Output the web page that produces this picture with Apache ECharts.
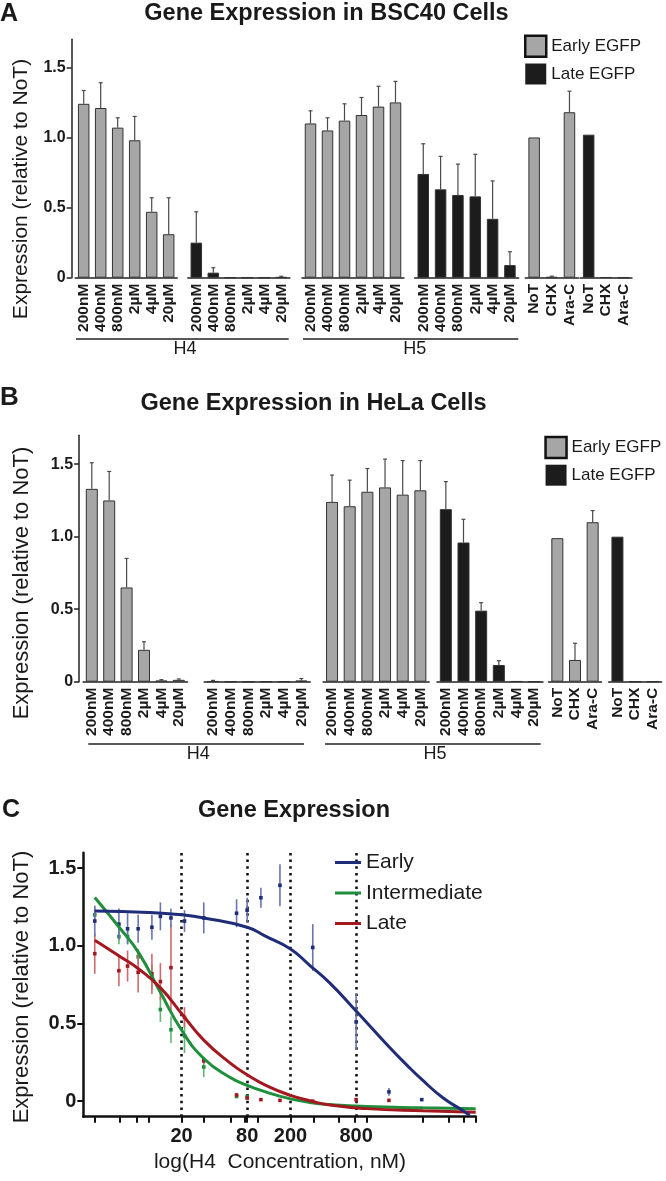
<!DOCTYPE html>
<html><head><meta charset="utf-8">
<script src="https://cdn.jsdelivr.net/npm/echarts@6/dist/echarts.min.js"></script>
<style>html,body{margin:0;padding:0;background:#fff}#c{width:666px;height:1181px}</style>
</head><body><div id="c"></div>
<script>
const FONT = '"Liberation Sans", Arial, Helvetica, sans-serif';

// ---------- categories / ticks ----------
const concLabels = ['200nM', '400nM', '800nM', '2µM', '4µM', '20µM'];
const ctrlLabels = ['NoT', 'CHX', 'Ara-C'];
const yTicks = [0, 0.5, 1.0, 1.5];

// ---------- Panel A : BSC40 ----------
const aH4Early    = [1.24, 1.21, 1.07, 0.98, 0.47, 0.31];
const aH4EarlyErr = [0.095, 0.18, 0.07, 0.17, 0.10, 0.26];
const aH4Late     = [0.25, 0.036, 0, 0, 0, 0.004];
const aH4LateErr  = [0.22, 0.035, 0, 0, 0, 0.006];
const aH5Early    = [1.10, 1.05, 1.12, 1.16, 1.22, 1.25];
const aH5EarlyErr = [0.09, 0.09, 0.12, 0.125, 0.145, 0.15];
const aH5Late     = [0.74, 0.63, 0.59, 0.58, 0.42, 0.09];
const aH5LateErr  = [0.215, 0.235, 0.22, 0.30, 0.27, 0.095];
const aCtrlEarly    = [1.0, 0.005, 1.18];
const aCtrlEarlyErr = [0, 0.006, 0.15];
const aCtrlLate     = [1.02, 0.003, 0];
const aCtrlLateErr  = [0, 0, 0];

// ---------- Panel B : HeLa ----------
const bH4Early    = [1.33, 1.25, 0.65, 0.22, 0.008, 0.013];
const bH4EarlyErr = [0.18, 0.20, 0.20, 0.055, 0.006, 0.006];
const bH4Late     = [0.003, 0, 0, 0, 0, 0.008];
const bH4LateErr  = [0.006, 0, 0, 0, 0, 0.014];
const bH5Early    = [1.24, 1.21, 1.31, 1.34, 1.29, 1.32];
const bH5EarlyErr = [0.185, 0.18, 0.16, 0.195, 0.235, 0.205];
const bH5Late     = [1.19, 0.96, 0.49, 0.115, 0.003, 0];
const bH5LateErr  = [0.19, 0.16, 0.055, 0.03, 0, 0];
const bCtrlEarly    = [0.99, 0.15, 1.10];
const bCtrlEarlyErr = [0, 0.115, 0.08];
const bCtrlLate     = [1.0, 0, 0];
const bCtrlLateErr  = [0, 0, 0];

// ---------- Panel C : dose response (H4 concentration, nM) ----------
const cConc       = [3.2, 5.33, 6.4, 8, 10.7, 12.8, 16, 21.3, 32, 64, 80, 107, 160, 320, 800, 1600, 3200];
const cEarly      = [1.16, 1.14, 1.11, 1.11, 1.12, 1.19, 1.18, 1.16, 1.18, 1.21, 1.23, 1.31, 1.39, 0.99, 0.51, 0.06, 0.01];
const cEarlyErr   = [0.10, 0.10, 0.10, 0.09, 0.08, 0.09, 0.06, 0.07, 0.10, 0.09, 0.08, 0.065, 0.135, 0.15, 0.18, 0.025, 0];
const cInter      = [1.20, 1.06, 1.06, 0.93, 0.80, 0.59, 0.46, 0.42, 0.22, 0.03, 0.03, null, null, null, null, null, null];
const cInterErr   = [0.05, 0.05, 0.05, 0.05, 0.08, 0.08, 0.085, 0.11, 0.065, 0.01, 0.01, 0, 0, 0, 0, 0, 0];
const cLate       = [0.95, 0.84, 0.87, 0.83, 0.82, 0.77, 0.86, 0.54, 0.26, 0.04, 0.02, 0.01, 0.005, 0.0, 0.01, 0.005, null];
const cLateErr    = [0.13, 0.10, 0.10, 0.13, 0.13, 0.12, 0.28, 0.065, 0.02, 0.01, 0.005, 0, 0, 0, 0.01, 0.01, 0];

// fitted curves
const fitEarlyConc = [3.2, 10, 20, 32, 80, 120, 200, 300, 460, 800, 1600, 2300, 3200, 5000, 7700, 8800];
const fitEarlyVal  = [1.225, 1.215, 1.20, 1.18, 1.12, 1.06, 0.98, 0.875, 0.76, 0.58, 0.35, 0.237, 0.14, 0.022, -0.063, -0.09];
const fitInterConc = [3.2, 5.4, 8.1, 12.9, 20, 32, 56, 80, 120, 200, 300, 460, 1000, 3300, 10000];
const fitInterVal  = [1.311, 1.117, 0.955, 0.696, 0.458, 0.275, 0.152, 0.102, 0.058, 0.015, -0.008, -0.022, -0.035, -0.043, -0.049];
const fitLateConc  = [3.2, 5.4, 8.1, 12.9, 20, 32, 56, 80, 120, 200, 300, 460, 1000, 3300, 10000];
const fitLateVal   = [1.036, 0.933, 0.851, 0.728, 0.565, 0.393, 0.245, 0.17, 0.10, 0.037, 0.003, -0.025, -0.048, -0.062, -0.071];

const cTickConc  = [3.2, 5.4, 7.7, 10, 20, 32, 56, 76, 80, 100, 200, 330, 550, 780, 1000, 3300, 5600, 7700, 10000];
const cLabelConc = [20, 80, 200, 800];
const cGuideConc = [20, 80, 200, 800];
const cYTicks = [0, 0.5, 1.0, 1.5];

// ---------- styling ----------
const GREY = '#a6a6a6', BLACK = '#1c1c1c';
const C_EARLY = '#1f2d78', C_INTER = '#1f8f3c', C_LATE = '#a3191f';
const E_EARLY = '#6a74ad', E_INTER = '#66b276', E_LATE = '#cf6a6a';

const grids = [], xAxes = [], yAxes = [], series = [];
const fmtY = v => (v === 0 ? '0' : v.toFixed(1));

function errRender(params, api) {
  const x = api.value(0), v = api.value(1), e = api.value(2);
  if (!(e > 0)) return;
  const p0 = api.coord([x, v]);
  const p1 = api.coord([x, v + e]);
  const st = { stroke: '#4a4a4a', lineWidth: 1.2 };
  return { type: 'group', children: [
    { type: 'line', shape: { x1: p0[0], y1: p0[1], x2: p1[0], y2: p1[1] }, style: st },
    { type: 'line', shape: { x1: p1[0] - 2, y1: p1[1], x2: p1[0] + 2, y2: p1[1] }, style: st }
  ]};
}

function addBarGroup(g, cats, vals, errs, color, name, yAxisOpt) {
  const gi = grids.length;
  grids.push({ left: g.left, top: g.top, width: g.width, height: g.height });
  xAxes.push({
    type: 'category', gridIndex: gi, data: cats,
    axisLine: { show: true, onZero: false, lineStyle: { color: '#222', width: 1.5 } },
    axisTick: { show: false },
    axisLabel: { interval: 0, rotate: 90, fontFamily: FONT, fontSize: 15.5, fontWeight: 'bold', color: '#1a1a1a', margin: 6 },
    splitLine: { show: false }
  });
  if (yAxisOpt) {
    yAxes.push({
      type: 'value', gridIndex: gi, min: 0, max: 1.7, offset: yAxisOpt.offset,
      axisLine: { show: true, lineStyle: { color: '#222', width: 1.5 } },
      axisTick: { show: true, length: 5, customValues: yTicks, lineStyle: { color: '#222', width: 1.5 } },
      axisLabel: { customValues: yTicks, formatter: fmtY, fontFamily: FONT, fontSize: 16, fontWeight: 'bold', color: '#1a1a1a', margin: 6 },
      splitLine: { show: false }
    });
  } else {
    yAxes.push({ type: 'value', gridIndex: gi, min: 0, max: 1.7, show: false, splitLine: { show: false } });
  }
  series.push({
    type: 'bar', name: name, xAxisIndex: gi, yAxisIndex: gi, data: vals, barWidth: g.barWidth,
    itemStyle: { color: color, borderColor: '#333', borderWidth: 1 }, silent: true
  });
  series.push({
    type: 'custom', name: name + ' error', xAxisIndex: gi, yAxisIndex: gi,
    data: vals.map((v, i) => [i, v, errs[i]]), encode: { x: 0, y: 1 },
    renderItem: errRender, z: 3, silent: true
  });
}

// Panel A grids
const aTop = 39.3, aH = 238.4;
addBarGroup({ left: 75.2, top: aTop, width: 102, height: aH, barWidth: 11.5 }, concLabels, aH4Early, aH4EarlyErr, GREY, 'Early EGFP', { offset: 3.5 });
addBarGroup({ left: 187.8, top: aTop, width: 102, height: aH, barWidth: 11.5 }, concLabels, aH4Late, aH4LateErr, BLACK, 'Late EGFP');
addBarGroup({ left: 302, top: aTop, width: 102, height: aH, barWidth: 11.5 }, concLabels, aH5Early, aH5EarlyErr, GREY, 'Early EGFP');
addBarGroup({ left: 414.6, top: aTop, width: 104, height: aH, barWidth: 11.5 }, concLabels, aH5Late, aH5LateErr, BLACK, 'Late EGFP');
addBarGroup({ left: 525.3, top: aTop, width: 53, height: aH, barWidth: 11.5 }, ctrlLabels, aCtrlEarly, aCtrlEarlyErr, GREY, 'Early EGFP');
addBarGroup({ left: 580, top: aTop, width: 52, height: aH, barWidth: 11.5 }, ctrlLabels, aCtrlLate, aCtrlLateErr, BLACK, 'Late EGFP');

// Panel B grids
const bTop = 435.2, bH = 246.5;
addBarGroup({ left: 83.1, top: bTop, width: 104.4, height: bH, barWidth: 12 }, concLabels, bH4Early, bH4EarlyErr, GREY, 'Early EGFP', { offset: 4 });
addBarGroup({ left: 204.2, top: bTop, width: 106, height: bH, barWidth: 12 }, concLabels, bH4Late, bH4LateErr, BLACK, 'Late EGFP');
addBarGroup({ left: 323.2, top: bTop, width: 106, height: bH, barWidth: 12 }, concLabels, bH5Early, bH5EarlyErr, GREY, 'Early EGFP');
addBarGroup({ left: 437, top: bTop, width: 106, height: bH, barWidth: 12 }, concLabels, bH5Late, bH5LateErr, BLACK, 'Late EGFP');
addBarGroup({ left: 548.5, top: bTop, width: 53, height: bH, barWidth: 12 }, ctrlLabels, bCtrlEarly, bCtrlEarlyErr, GREY, 'Early EGFP');
addBarGroup({ left: 608.6, top: bTop, width: 53, height: bH, barWidth: 12 }, ctrlLabels, bCtrlLate, bCtrlLateErr, BLACK, 'Late EGFP');

// Panel C grid
const cg = grids.length;
const L = Math.log10;
grids.push({ left: 83.3, top: 852.7, width: 392.4, height: 264 });
xAxes.push({
  type: 'value', gridIndex: cg, min: 0.4, max: 4,
  axisLine: { show: true, onZero: false, lineStyle: { color: '#111', width: 2.5 } },
  axisTick: { show: true, length: 6, customValues: cTickConc.map(L), lineStyle: { color: '#111', width: 2 } },
  axisLabel: { customValues: cLabelConc.map(L), formatter: v => String(Math.round(Math.pow(10, v))),
               fontFamily: FONT, fontSize: 20, fontWeight: 'bold', color: '#1a1a1a', margin: 10 },
  splitLine: { show: false }
});
yAxes.push({
  type: 'value', gridIndex: cg, min: -0.1, max: 1.6,
  axisLine: { show: true, onZero: false, lineStyle: { color: '#111', width: 2.5 } },
  axisTick: { show: true, length: 6, customValues: cYTicks, lineStyle: { color: '#111', width: 2 } },
  axisLabel: { customValues: cYTicks, formatter: fmtY, fontFamily: FONT, fontSize: 20, fontWeight: 'bold', color: '#1a1a1a', margin: 7 },
  splitLine: { show: false }
});

function ptRender(color, barColor) {
  return function (params, api) {
    const x = api.value(0), v = api.value(1), e = api.value(2);
    const p = api.coord([x, v]);
    const ch = [];
    if (e > 0) {
      const a = api.coord([x, v + e]), b = api.coord([x, v - e]);
      ch.push({ type: 'line', shape: { x1: a[0], y1: a[1], x2: b[0], y2: b[1] }, style: { stroke: barColor, lineWidth: 1.6 } });
    }
    ch.push({ type: 'rect', shape: { x: p[0] - 1.8, y: p[1] - 1.8, width: 3.6, height: 3.6 }, style: { fill: color } });
    return { type: 'group', children: ch };
  };
}
function pts(vals, errs) {
  const out = [];
  cConc.forEach((c, i) => { if (vals[i] !== null) out.push([L(c), vals[i], errs[i]]); });
  return out;
}
series.push({ type: 'custom', name: 'Intermediate data', xAxisIndex: cg, yAxisIndex: cg, data: pts(cInter, cInterErr), encode: { x: 0, y: 1 }, renderItem: ptRender(C_INTER, E_INTER), z: 2, silent: true });
series.push({ type: 'custom', name: 'Late data', xAxisIndex: cg, yAxisIndex: cg, data: pts(cLate, cLateErr), encode: { x: 0, y: 1 }, renderItem: ptRender(C_LATE, E_LATE), z: 2, silent: true });
series.push({ type: 'custom', name: 'Early data', xAxisIndex: cg, yAxisIndex: cg, data: pts(cEarly, cEarlyErr), encode: { x: 0, y: 1 }, renderItem: ptRender(C_EARLY, E_EARLY), z: 2, silent: true });

function curve(name, concs, vals, color, extra) {
  return Object.assign({
    type: 'line', name: name, xAxisIndex: cg, yAxisIndex: cg, color: color,
    data: concs.map((c, i) => [L(c), vals[i]]), smooth: 0.5, showSymbol: false, symbol: 'none',
    lineStyle: { color: color, width: 3 }, z: 4, silent: true
  }, extra || {});
}
series.push(curve('Intermediate', fitInterConc, fitInterVal, C_INTER));
series.push(curve('Late', fitLateConc, fitLateVal, C_LATE));
series.push(curve('Early', fitEarlyConc, fitEarlyVal, C_EARLY, {
  markLine: {
    silent: true, symbol: ['none', 'none'], label: { show: false },
    lineStyle: { type: [2.5, 4.2], color: '#111', width: 2.6 },
    data: cGuideConc.map(c => ({ xAxis: L(c) })), z: 1
  }
}));

// ---------- graphics: titles, labels, brackets ----------
function text(x, y, str, font, rot, align) {
  return { type: 'text', x: x, y: y, rotation: rot || 0, silent: true,
    style: { text: str, font: font, fill: '#1a1a1a',
             textAlign: align || 'center', textVerticalAlign: 'middle',
             align: align || 'center', verticalAlign: 'middle' } };
}
function hline(x1, x2, y) {
  return { type: 'line', silent: true, shape: { x1: x1, y1: y, x2: x2, y2: y }, style: { stroke: '#222', lineWidth: 1.5 } };
}
const TB = 'bold 23.5px ' + FONT;
const graphics = [
  text(0, 14, 'A', 'bold 25px ' + FONT, 0, 'left'),
  text(326.5, 14, 'Gene Expression in BSC40 Cells', TB),
  text(21, 189, 'Expression (relative to NoT)', '21px ' + FONT, Math.PI / 2),
  hline(76, 288.7, 339), hline(303, 518.3, 339),
  text(185, 349.5, 'H4', '18px ' + FONT), text(414.7, 349.5, 'H5', '18px ' + FONT),

  text(0, 398, 'B', 'bold 26px ' + FONT, 0, 'left'),
  text(313.5, 404, 'Gene Expression in HeLa Cells', TB),
  text(21.5, 583, 'Expression (relative to NoT)', '22px ' + FONT, Math.PI / 2),
  hline(88.3, 304, 744), hline(325, 540.7, 744),
  text(198.3, 754, 'H4', '18px ' + FONT), text(435, 754, 'H5', '18px ' + FONT),

  text(2, 810, 'C', 'bold 25px ' + FONT, 0, 'left'),
  text(294, 811, 'Gene Expression', TB),
  text(21.5, 987, 'Expression (relative to NoT)', '22px ' + FONT, Math.PI / 2),
  text(280, 1162, 'log(H4  Concentration, nM)', '21px ' + FONT)
];

const barLegendData = [
  { name: 'Early EGFP', icon: 'rect', itemStyle: { color: GREY, borderColor: '#111', borderWidth: 2.5 } },
  { name: 'Late EGFP', icon: 'rect', itemStyle: { color: BLACK, borderColor: BLACK, borderWidth: 0 } }
];
const barLegendText = { fontFamily: FONT, fontSize: 17, color: '#1a1a1a' };

const option = {
  animation: false,
  backgroundColor: '#fff',
  grid: grids, xAxis: xAxes, yAxis: yAxes, series: series,
  graphic: { elements: graphics },
  legend: [
    { left: 519, top: 29.5, orient: 'vertical', itemWidth: 21, itemHeight: 21, itemGap: 5.5, selectedMode: false,
      textStyle: barLegendText, data: barLegendData },
    { left: 539.3, top: 430.7, orient: 'vertical', itemWidth: 21, itemHeight: 21, itemGap: 5.5, selectedMode: false,
      textStyle: barLegendText, data: barLegendData },
    { left: 330, top: 847, orient: 'vertical', itemWidth: 26, itemHeight: 3, itemGap: 9.5, selectedMode: false, icon: 'rect',
      textStyle: { fontFamily: FONT, fontSize: 21, color: '#1a1a1a' },
      data: [
        { name: 'Early', itemStyle: { color: C_EARLY, borderWidth: 0 } },
        { name: 'Intermediate', itemStyle: { color: C_INTER, borderWidth: 0 } },
        { name: 'Late', itemStyle: { color: C_LATE, borderWidth: 0 } }
      ] }
  ]
};

const chart = echarts.init(document.getElementById('c'), null, { renderer: 'canvas' });
chart.setOption(option);
</script>
</body></html>
